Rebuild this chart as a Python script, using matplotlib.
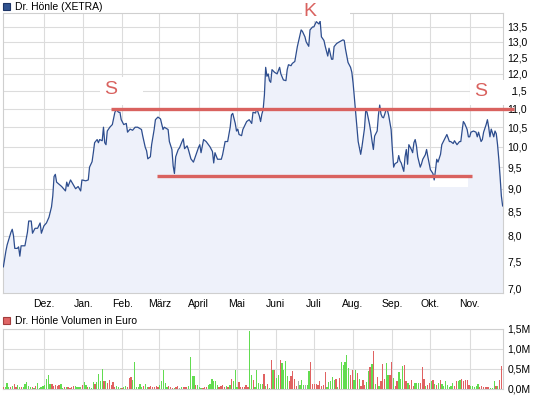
import numpy as np
import pandas as pd
import matplotlib
matplotlib.use("Agg")
import matplotlib.pyplot as plt
from matplotlib.patches import Rectangle
from matplotlib.ticker import FixedLocator, NullLocator, FuncFormatter

plt.rcParams['font.family'] = ['Liberation Sans', 'DejaVu Sans']

# --- data -------------------------------------------------------------
start = pd.Timestamp('2007-10-30')

# days since start, closing price (EUR)
price_day = [0, 2, 3, 4, 6, 7, 8, 9, 11, 12, 13, 14, 17, 19, 20, 22, 23, 25, 27, 29,
             30, 32, 34, 36, 38, 39, 40, 41, 42, 44, 46, 49, 50, 51, 53, 55, 57, 59, 60, 61,
             62, 65, 67, 68, 70, 71, 72, 74, 75, 76, 78, 79, 80, 81, 82, 84, 86, 88, 89, 91,
             92, 93, 95, 97, 98, 100, 102, 104, 106, 109, 110, 112, 113, 114, 116, 117, 119, 120, 122, 124,
             126, 127, 130, 131, 133, 134, 135, 136, 138, 139, 141, 142, 143, 145, 146, 148, 150, 152, 154, 155,
             156, 158, 160, 163, 165, 166, 167, 169, 172, 173, 175, 177, 179, 180, 181, 183, 184, 185, 186, 188,
             189, 192, 194, 196, 197, 199, 200, 202, 203, 204, 205, 206, 207, 208, 209, 210, 211, 212, 214, 216,
             218, 219, 221, 223, 224, 225, 227, 228, 230, 232, 233, 235, 236, 238, 239, 241, 242, 244, 245, 247,
             249, 250, 251, 253, 254, 255, 256, 257, 259, 260, 261, 263, 265, 268, 269, 270, 271, 272, 274, 275,
             276, 277, 278, 279, 280, 282, 283, 285, 286, 287, 289, 290, 291, 292, 293, 295, 296, 297, 298, 299,
             300, 301, 302, 303, 304, 306, 307, 308, 309, 311, 312, 313, 314, 316, 317, 318, 319, 320, 322, 323,
             324, 325, 326, 327, 329, 330, 331, 333, 334, 335, 336, 337, 339, 340, 341, 342, 343, 345, 346, 348,
             349, 350, 352, 353, 355, 356, 358, 360, 361, 362, 363, 364, 366, 367, 368, 369, 371, 373, 374, 375,
             377, 378, 379, 381, 382, 383, 384, 385, 387, 388, 389, 390, 391, 392, 393, 394]
price = [7.40, 7.70, 7.82, 7.90, 8.07, 8.13, 8.00, 7.75, 7.75, 7.78, 7.60, 7.80, 7.80, 8.07, 8.30, 8.30, 8.05, 8.15, 8.15, 8.26,
         8.05, 8.20, 8.26, 8.38, 8.60, 8.84, 9.28, 9.33, 9.15, 9.10, 9.05, 8.95, 9.15, 9.05, 9.20, 9.10, 9.00, 9.05, 9.00, 8.95,
         9.20, 9.18, 9.20, 9.50, 9.63, 9.85, 10.10, 10.18, 10.10, 10.18, 10.15, 10.50, 10.10, 10.05, 10.40, 10.50, 10.57, 10.90, 10.97, 10.90,
         10.90, 10.70, 10.57, 10.60, 10.37, 10.45, 10.42, 10.50, 10.50, 10.44, 10.27, 9.98, 9.90, 9.70, 9.75, 10.05, 10.44, 10.70, 10.77, 10.72,
         10.44, 10.50, 10.44, 10.13, 9.93, 9.53, 9.35, 9.75, 9.93, 9.97, 10.13, 10.20, 9.95, 10.02, 9.93, 9.70, 9.62, 9.80, 9.98, 10.05,
         9.85, 10.18, 10.13, 10.00, 9.88, 9.60, 9.85, 9.69, 9.69, 9.80, 10.13, 10.13, 10.50, 10.83, 10.87, 10.60, 10.40, 10.45, 10.31, 10.28,
         10.44, 10.65, 10.70, 10.60, 10.90, 10.88, 11.00, 10.80, 10.65, 10.85, 10.97, 11.38, 12.20, 11.93, 12.00, 11.80, 11.75, 12.13, 12.05, 12.00,
         12.20, 12.00, 11.82, 11.80, 12.13, 12.28, 12.25, 12.32, 12.38, 12.85, 13.03, 13.40, 13.35, 13.17, 13.00, 12.86, 13.40, 13.50, 13.50, 13.68,
         13.60, 13.70, 13.17, 13.05, 12.86, 12.70, 12.55, 12.80, 12.45, 12.45, 12.85, 12.95, 13.00, 13.07, 13.05, 12.77, 12.55, 12.35, 12.20, 12.05,
         11.73, 11.30, 10.90, 10.50, 10.13, 9.81, 10.00, 10.47, 10.97, 10.90, 10.57, 10.37, 10.13, 9.93, 10.27, 10.40, 10.83, 11.10, 10.85, 10.77,
         10.75, 10.85, 10.97, 10.97, 10.83, 10.44, 9.93, 9.50, 9.58, 9.62, 9.78, 9.65, 9.60, 9.40, 9.75, 9.93, 9.57, 10.05, 9.93, 9.85,
         10.10, 10.18, 10.02, 9.75, 9.50, 9.58, 9.69, 9.80, 9.93, 9.75, 9.60, 9.44, 9.35, 9.20, 9.42, 9.69, 9.62, 9.81, 10.05, 10.18,
         10.25, 10.31, 10.13, 10.13, 10.08, 10.15, 10.05, 10.13, 10.13, 10.40, 10.65, 10.60, 10.44, 10.25, 10.25, 10.37, 10.40, 10.37, 10.25, 10.37,
         10.13, 10.18, 10.37, 10.57, 10.70, 10.50, 10.25, 10.45, 10.25, 10.40, 10.33, 10.05, 9.69, 9.28, 8.84, 8.62]

# daily turnover in thousand EUR, one bar per trading day
volume_k = [50, 50, 150, 50, 50, 83, 133, 50, 100, 50, 50, 50, 133, 183, 83, 50, 50, 33, 83, 150,
            25, 50, 83, 108, 250, 350, 133, 133, 83, 108, 83, 108, 133, 33, 50, 50, 50, 33, 50, 83,
            83, 50, 50, 50, 108, 167, 100, 50, 50, 33, 183, 133, 183, 383, 208, 500, 208, 208, 150, 233,
            108, 183, 50, 83, 50, 33, 33, 50, 83, 50, 283, 300, 233, 683, 50, 50, 133, 50, 83, 133,
            50, 50, 83, 50, 50, 83, 50, 108, 208, 467, 150, 50, 83, 50, 33, 33, 50, 83, 33, 50,
            50, 50, 50, 83, 808, 333, 317, 100, 100, 50, 33, 33, 50, 50, 108, 133, 258, 208, 208, 108,
            50, 83, 108, 50, 83, 50, 108, 258, 208, 483, 50, 167, 50, 50, 50, 108, 50, 1458, 358, 233,
            50, 483, 150, 133, 133, 383, 83, 133, 33, 733, 467, 467, 275, 358, 733, 650, 467, 708, 333, 192,
            317, 458, 250, 83, 208, 108, 233, 108, 108, 108, 442, 667, 133, 133, 133, 108, 208, 83, 108, 417,
            50, 175, 208, 300, 217, 250, 50, 275, 667, 592, 667, 858, 525, 358, 483, 233, 483, 400, 250, 83,
            233, 108, 167, 458, 542, 625, 942, 133, 300, 83, 208, 625, 258, 650, 358, 358, 683, 275, 83, 192,
            417, 258, 583, 608, 192, 150, 108, 233, 83, 150, 150, 150, 150, 550, 250, 83, 108, 150, 192, 233,
            133, 108, 150, 233, 133, 83, 192, 108, 50, 83, 150, 83, 192, 192, 233, 250, 192, 217, 217, 108,
            83, 83, 50, 83, 133, 50, 83, 50, 50, 50, 50, 33, 33, 192, 67, 83, 233, 567]
# g = up day, r = down day, n = unchanged
volume_dir = ("rgggrgrrgg" "rgggggrgrg" "gggggggrrr" "rrggrgrrrr" "ggggrggrgg"
              "grggggrgrr" "rrrgggrggr" "rrggggggrg" "grrrrrrggg" "ggrrrgrrng"
              "rrrggggrgg" "grrrgggggg" "rrrrgrgrgg" "grrrrrrggr" "gggggrgrgr"
              "grggrggggr" "rrrrngggng" "grrrrrrrrr" "gggggrgrgg" "gggrrggrgr"
              "rrggrgrgrg" "rrrggrrgrr" "gggrrgrrrg" "ggrrrgrrgr" "grgrgggggg"
              "grrggrrrrr" "gggggrrrrr")

month_starts = pd.date_range('2007-12-01', '2008-11-01', freq='MS')
month_labels = ['Dez.', 'Jan.', 'Feb.', 'März', 'April', 'Mai', 'Juni', 'Juli',
                'Aug.', 'Sep.', 'Okt.', 'Nov.']
price_ticks = np.arange(7.0, 13.51, 0.5)
volume_ticks = [0, 500, 1000, 1500]

# trend lines drawn on the chart (price level, from, to)
resistance = (11.0, '2008-01-23', '2008-12-06')
support = (9.28, '2008-02-28', '2008-11-03')

# --- style ------------------------------------------------------------
W, H = 545, 398
LINE = '#2d4d8e'
FILL = '#eef1fa'
GRID = '#dcdcdc'
ANNO = '#d9625f'
GREEN = '#62dc50'
RED = '#e06262'
GREY = '#aaaaaa'
FS = 7.5

dates = start + pd.to_timedelta(price_day, unit='D')
vol_dates = pd.date_range(start, start + pd.Timedelta(days=393), periods=len(volume_k))
vol_colors = [{'g': GREEN, 'r': RED, 'n': GREY}[c] for c in volume_dir[:len(volume_k)]]
xmin = start - pd.Timedelta(hours=7)
xmax = start + pd.Timedelta(days=394.3)

fig = plt.figure(figsize=(W / 100, H / 100), dpi=100)


def box(l, t, r, b):
    # pixel box (from top-left) -> figure fraction rect
    return [l / W, 1 - b / H, (r - l) / W, (b - t) / H]


ax = fig.add_axes(box(3, 13, 503, 293))
axv = fig.add_axes(box(3, 329, 503, 389))

for a in (ax, axv):
    a.set_xlim(xmin, xmax)
    a.set_xticks(month_starts)
    a.grid(True, color=GRID, lw=0.8)
    a.set_axisbelow(True)
    for s in a.spines.values():
        s.set_color('#cfcfcf')
        s.set_linewidth(0.8)
    a.yaxis.tick_right()
    a.tick_params(length=0, labelsize=FS, colors='black')
    a.tick_params(axis='y', pad=3)

# price panel
ax.set_yscale('log')
ax.set_ylim(6.93, 13.98)
ax.yaxis.set_major_locator(FixedLocator(price_ticks))
ax.yaxis.set_minor_locator(NullLocator())
ax.yaxis.set_major_formatter(FuncFormatter(lambda v, _: f"{v:.1f}".replace('.', ',')))
ax.set_xticklabels(month_labels)
ax.tick_params(axis='x', pad=4.5)

ax.fill_between(dates, price, 6.0, color=FILL, lw=0, zorder=2)
ax.plot(dates, price, color=LINE, lw=0.9, zorder=3)

# white patch under support line
ax.add_patch(Rectangle((pd.Timestamp('2008-10-01'), 9.03),
                       pd.Timedelta(days=30), 0.24, fc='white', ec='none', zorder=2.5))

lvl, a0, a1 = resistance
ax.plot([pd.Timestamp(a0), pd.Timestamp(a1)], [lvl, lvl], color=ANNO, lw=2.4,
        solid_capstyle='butt', clip_on=False, zorder=6)
lvl, a0, a1 = support
ax.plot([pd.Timestamp(a0), pd.Timestamp(a1)], [lvl, lvl], color=ANNO, lw=2.4,
        solid_capstyle='butt', clip_on=False, zorder=6)

# annotation labels with white backgrounds
for (x0, y0, x1, y1) in [(0.194, 0.671, 0.280, 0.771), (0.598, 0.971, 0.694, 1.05),
                         (0.934, 0.671, 1.018, 0.761)]:
    ax.add_patch(Rectangle((x0, y0), x1 - x0, y1 - y0, transform=ax.transAxes,
                           fc='white', ec='none', clip_on=False, zorder=5))
for txt, x, y in [('S', 0.216, 0.728), ('K', 0.614, 1.004), ('S', 0.956, 0.718)]:
    ax.text(x, y, txt, transform=ax.transAxes, ha='center', va='center',
            fontsize=14, color=ANNO, zorder=7)

# volume panel
axv.set_ylim(0, 1500)
axv.yaxis.set_major_locator(FixedLocator(volume_ticks))
axv.yaxis.set_major_formatter(FuncFormatter(lambda v, _: f"{v / 1000:.1f}M".replace('.', ',')))
axv.set_xticklabels([])
axv.bar(vol_dates, volume_k, width=1.0, color=vol_colors, lw=0, zorder=3)

# legend squares and titles
fig.add_artist(Rectangle(box(3, 3, 10, 10)[:2], 7 / W, 7 / H, transform=fig.transFigure,
                         fc='#30528f', ec='#1d3466', lw=0.8))
fig.text(15 / W, 1 - 6.5 / H, 'Dr. Hönle (XETRA)', fontsize=FS, va='center', ha='left')
fig.add_artist(Rectangle(box(3, 317, 10, 324)[:2], 7 / W, 7 / H, transform=fig.transFigure,
                         fc='#e06666', ec='#a33c3c', lw=0.8))
fig.text(15 / W, 1 - 321 / H, 'Dr. Hönle Volumen in Euro', fontsize=FS, va='center', ha='left')

fig.savefig('out.png', dpi=100)
